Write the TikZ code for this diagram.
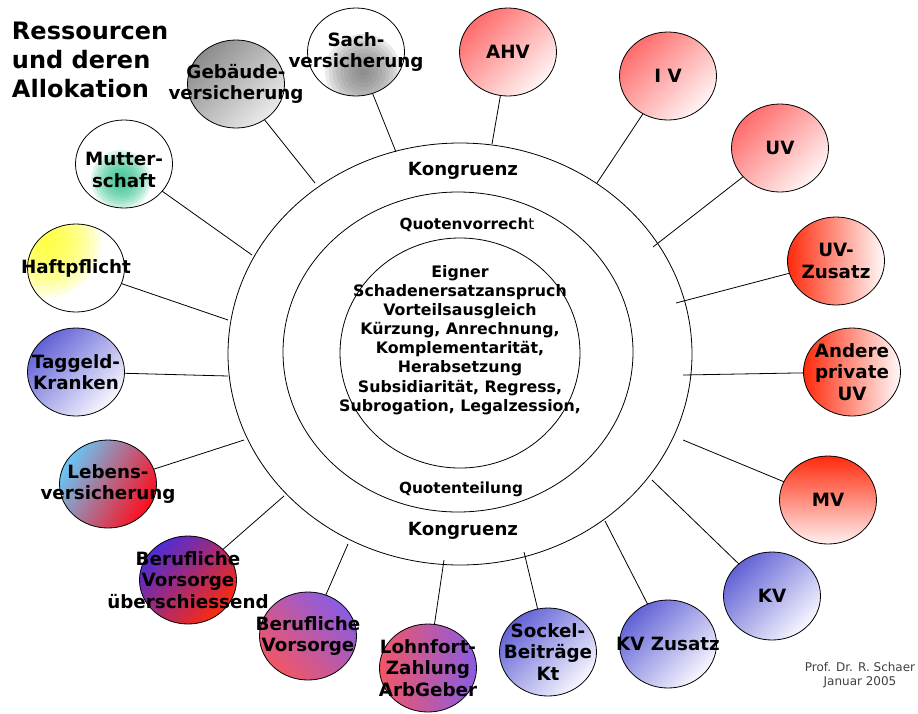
\documentclass[tikz,border=0pt]{standalone}
\usepackage{fontspec}
\setmainfont{DejaVu Sans}
\usetikzlibrary{shapes.geometric, positioning}

\definecolor{salmonred}{RGB}{255,108,108}
\definecolor{hotred}{RGB}{255,42,12}
\definecolor{violetblue}{RGB}{98,98,214}
\definecolor{lemon}{RGB}{255,255,30}
\definecolor{mint}{RGB}{28,190,128}
\definecolor{midgray}{RGB}{140,140,140}
\definecolor{spotgray}{RGB}{120,120,120}
\definecolor{skyblue}{RGB}{105,198,245}
\definecolor{deepred}{RGB}{255,12,28}
\definecolor{indigo}{RGB}{78,44,214}
\definecolor{lilac}{RGB}{138,92,226}
\definecolor{rosered}{RGB}{242,86,102}

\begin{document}
\begin{tikzpicture}[x=1pt, y=-1pt]
        \tikzset{
            every node/.style={inner sep=0pt, outer sep=0pt},
            ring/.style={draw, ellipse, line width=0.8pt}, % the three rings in the middle
            res/.style={draw, ellipse, line width=0.8pt, minimum width=97pt, minimum height=88pt}, % one resource bubble
            lbl/.style={font=\bfseries\fontsize{18.3}{21.5}\selectfont, align=center}, % text of a bubble
            ringtext/.style={font=\bfseries\fontsize{18.2}{21}\selectfont},
            quotetext/.style={font=\bfseries\fontsize{15.3}{19}\selectfont},
            coretext/.style={font=\bfseries\fontsize{15.8}{19.1}\selectfont, align=center},
            link/.style={line width=0.8pt}, % bubble to outer ring
            redfade/.style={top color=salmonred, bottom color=red!4, shading angle=45},
            hotfade/.style={left color=hotred, right color=red!2},
            bluefade/.style={top color=violetblue, bottom color=blue!3, shading angle=45},
            spot/.style n args={4}{fill=white, path picture={
                \foreach \r in {1,...,10}
                    \fill[#1, opacity=0.15, shift={(path picture bounding box.center)}] (#2,#3) circle ({#4*\r/10});}}, % soft colour spot
            }

        \useasboundingbox (0,0) rectangle (918,713);

        % rings
        \node[ring, minimum width=464pt, minimum height=422pt] (outer_ring) at (460,354) {};
        \node[ring, minimum width=350pt, minimum height=320pt] (middle_ring) at (458,352) {};
        \node[ring, minimum width=240pt, minimum height=230pt] (inner_ring) at (460,353) {};

        % texts in the rings
        \node[ringtext, anchor=base] (kongruenz_top) at (463,175) {Kongruenz};
        \node[ringtext, anchor=base] (kongruenz_bottom) at (463,535) {Kongruenz};
        \node[quotetext, anchor=base] (quotenvorrecht) at (467,229) {Quotenvorrech{\mdseries t}};
        \node[quotetext, anchor=base] (quotenteilung) at (461,493) {Quotenteilung};
        \node[coretext] (core_text) at (460,340) {Eigner\\Schadenersatzanspruch\\Vorteilsausgleich\\K\"urzung, Anrechnung,\\Komplementarit\"at,\\Herabsetzung\\Subsidiarit\"at, Regress,\\Subrogation, Legalzession,};

        % bubbles
        \node[res, top color=midgray, bottom color=black!8, shading angle=45] (gebaeude) at (236,84) {};
        \node[res, spot={spotgray}{7}{20}{38}] (sach) at (356,52) {};
        \node[res, redfade] (ahv) at (508,52) {};
        \node[res, redfade] (iv) at (668,76) {};
        \node[res, redfade] (uv) at (780,148) {};
        \node[res, hotfade] (uv_zusatz) at (836,261) {};
        \node[res, hotfade] (andere_uv) at (852,372) {};
        \node[res, top color=hotred, bottom color=red!6] (mv) at (828,500) {};
        \node[res, bluefade] (kv) at (772,596) {};
        \node[res, bluefade] (kv_zusatz) at (668,644) {};
        \node[res, bluefade] (sockel) at (548,652) {};
        \node[res, left color=rosered, right color=lilac] (lohnfort) at (428,668) {};
        \node[res, top color=lilac, bottom color=rosered, shading angle=-45] (bv) at (308,636) {};
        \node[res, top color=indigo, middle color=hotred!75!indigo, bottom color=hotred, shading angle=45] (bv_ueber) at (188,580) {};
        \node[res, top color=skyblue, bottom color=deepred, shading angle=60] (lebens) at (108,484) {};
        \node[res, bluefade] (taggeld) at (76,372) {};
        \node[res, spot={lemon}{-30}{-26}{55}] (haftpflicht) at (76,268) {};
        \node[res, spot={mint}{-3}{16}{30}] (mutterschaft) at (124,164) {};

        % bubble texts
        \node[lbl] at (gebaeude) {Geb\"aude-\\versicherung};
        \node[lbl] at (sach) {Sach-\\versicherung};
        \node[lbl] at (ahv) {AHV};
        \node[lbl] at (iv) {I V};
        \node[lbl] at (uv) {UV};
        \node[lbl] at (uv_zusatz) {UV-\\Zusatz};
        \node[lbl] at (andere_uv) {Andere\\private\\UV};
        \node[lbl] at (mv) {MV};
        \node[lbl] at (kv) {KV};
        \node[lbl] at (kv_zusatz) {KV Zusatz};
        \node[lbl] at (sockel) {Sockel-\\Beitr\"age\\Kt};
        \node[lbl] at (lohnfort) {Lohnfort-\\Zahlung\\ArbGeber};
        \node[lbl] at (bv) {Berufliche\\Vorsorge};
        \node[lbl] at (bv_ueber) {Berufliche\\Vorsorge\\\"uberschiessend};
        \node[lbl] at (lebens) {Lebens-\\versicherung};
        \node[lbl] at (taggeld) {Taggeld-\\Kranken};
        \node[lbl] at (haftpflicht) {Haftpflicht};
        \node[lbl, yshift=-6pt] at (mutterschaft) {Mutter-\\schaft};

        % title and footer
        \node[font=\bfseries\fontsize{24}{29}\selectfont, align=left, anchor=north west] (title) at (12,22) {Ressourcen\\und deren\\Allokation};
        \node[font=\fontsize{12}{14}\selectfont, align=center, text=black!75] (footer) at (860,675) {Prof. Dr. R. Schaer\\Januar 2005};

        % ends of the links at the outer ring
        \coordinate (sach_end) at (396,152);
        \coordinate (gebaeude_end) at (315,183);
        \coordinate (mutterschaft_end) at (252,255);
        \coordinate (haftpflicht_end) at (228,320);
        \coordinate (taggeld_end) at (228,376);
        \coordinate (lebens_end) at (244,440);
        \coordinate (bv_ueber_end) at (284,496);
        \coordinate (bv_end) at (348,544);
        \coordinate (lohnfort_end) at (444,560);
        \coordinate (sockel_end) at (524,552);
        \coordinate (kv_zusatz_end) at (605,521);
        \coordinate (kv_end) at (652,480);
        \coordinate (mv_end) at (683,440);
        \coordinate (andere_uv_end) at (683,375);
        \coordinate (uv_zusatz_end) at (676,303);
        \coordinate (uv_end) at (653,247);
        \coordinate (iv_end) at (597,183);
        \coordinate (ahv_end) at (492,144);

        % links
        \draw[link] (sach) -- (sach_end);
        \draw[link] (gebaeude) -- (gebaeude_end);
        \draw[link] (mutterschaft) -- (mutterschaft_end);
        \draw[link] (haftpflicht) -- (haftpflicht_end);
        \draw[link] (taggeld) -- (taggeld_end);
        \draw[link] (lebens) -- (lebens_end);
        \draw[link] (bv_ueber) -- (bv_ueber_end);
        \draw[link] (bv) -- (bv_end);
        \draw[link] (lohnfort) -- (lohnfort_end);
        \draw[link] (sockel) -- (sockel_end);
        \draw[link] (kv_zusatz) -- (kv_zusatz_end);
        \draw[link] (kv) -- (kv_end);
        \draw[link] (mv) -- (mv_end);
        \draw[link] (andere_uv) -- (andere_uv_end);
        \draw[link] (uv_zusatz) -- (uv_zusatz_end);
        \draw[link] (uv) -- (uv_end);
        \draw[link] (iv) -- (iv_end);
        \draw[link] (ahv) -- (ahv_end);
    \end{tikzpicture}
\end{document}
